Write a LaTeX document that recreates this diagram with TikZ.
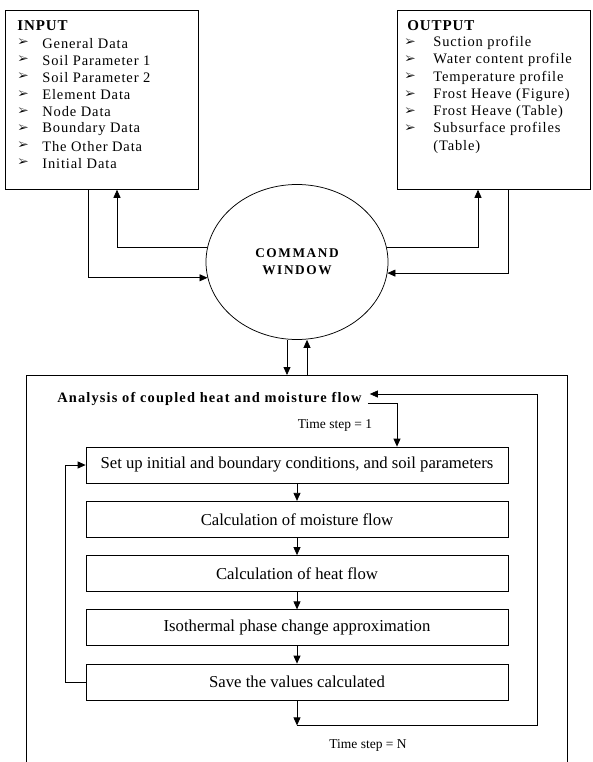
\documentclass[tikz,border=0pt]{standalone}
\usepackage{fontspec}
\setmainfont{Liberation Serif}
\usepackage{pifont}
\usetikzlibrary{positioning,shapes.geometric,arrows.meta}

\begin{document}
\begin{tikzpicture}[x=1pt,y=-1pt,line width=0.75pt,>={Triangle[length=8pt,width=7pt]}]
            \tikzstyle{listbox}=[draw,anchor=north west,minimum width=193pt,minimum height=179pt,inner sep=0pt]
            \tikzstyle{stepbox}=[draw,minimum width=422pt,minimum height=36pt,inner sep=0pt,font=\fontsize{16.7}{18}\selectfont]
            \tikzstyle{item}=[anchor=west,inner sep=0pt,font=\fontsize{14.5}{16}\selectfont\addfontfeature{LetterSpace=6}]
            \tikzstyle{head}=[anchor=west,inner sep=0pt,font=\fontsize{15}{16}\selectfont\bfseries\addfontfeature{LetterSpace=6}]
            \tikzstyle{bullet}=[anchor=west,inner sep=0pt,font=\fontsize{11}{11}\selectfont]
            \tikzstyle{note}=[inner sep=0pt,font=\fontsize{13.5}{15}\selectfont]
            \useasboundingbox (0,0) rectangle (593,762);

                % input and output lists
                \node[listbox] (input) at (5,10) {};
                \node[listbox] (output) at (397,10) {};
                \node[head] (in-head) at (17,26) {INPUT};
                \node[head] (out-head) at (407,26) {OUTPUT};

                \foreach \i/\txt in {1/General Data, 2/Soil Parameter 1, 3/Soil Parameter 2, 4/Element Data, 5/Node Data, 6/Boundary Data, 7/The Other Data, 8/Initial Data}
                    {
                    \node[bullet] (in-b-\i) at (18,25+17.2*\i) {\ding{226}};
                    \node[item] (in-\i) at (42,26+17.2*\i) {\txt};
                    }
                \foreach \i/\txt in {1/Suction profile, 2/Water content profile, 3/Temperature profile, 4/Frost Heave (Figure), 5/Frost Heave (Table), 6/Subsurface profiles}
                    {
                    \node[bullet] (out-b-\i) at (405,25+17.2*\i) {\ding{226}};
                    \node[item] (out-\i) at (433,26+17.2*\i) {\txt};
                    }
                \node[item] (out-7) at (433,147) {(Table)};

                % command window
                \node[ellipse,draw,minimum width=182pt,minimum height=155pt,inner sep=0pt,align=center,
                      font=\fontsize{13.3}{17}\selectfont\bfseries\addfontfeature{LetterSpace=12}] (cmd) at (297,262) {COMMAND\\WINDOW};

                \draw[->] ([xshift=83pt]input.south west) |- (cmd.190);
                \draw[->] (cmd.171) -| ([xshift=112pt]input.south west);
                \draw[->] (cmd.9) -| ([xshift=81pt]output.south west);
                \draw[->] ([xshift=111pt]output.south west) |- (cmd.353);

                % analysis frame
                \node[minimum width=541pt,minimum height=387pt,inner sep=0pt,anchor=north west] (frame) at (26,375) {};
                \draw (frame.south west) -- (frame.north west) -- (frame.north east) -- (frame.south east);
                \draw[->] ([xshift=-10pt]cmd.south) -- ([xshift=-10pt]cmd.south |- frame.north);
                \draw[->] ([xshift=10pt]cmd.south |- frame.north) -- ([xshift=10pt]cmd.south);

                \node[anchor=west,inner sep=0pt,font=\fontsize{14.4}{16}\selectfont\bfseries\addfontfeature{LetterSpace=8}] (analysis) at (57,399) {Analysis of coupled heat and moisture flow};

                \node[stepbox] (setup) at (297,465) {Set up initial and boundary conditions, and soil parameters};
                \node[stepbox,below=17.5pt of setup] (moist) {Calculation of moisture flow};
                \node[stepbox,below=17.5pt of moist] (heat) {Calculation of heat flow};
                \node[stepbox,below=17.5pt of heat] (phase) {Isothermal phase change approximation};
                \node[stepbox,below=17.5pt of phase] (save) {Save the values calculated};

                \foreach \from/\to in {setup/moist, moist/heat, heat/phase, phase/save}
                    \draw[->] (\from) -- (\to);

                \draw[->] ([yshift=-4pt,xshift=6pt]analysis.east) -| ([xshift=100pt]setup.north);
                \node[note] (ts-first) at (335,425) {Time step = 1};

                % time loop
                \draw[->] (save.west) -- ++(-20,0) |- (setup.west);
                \coordinate[below=25pt of save.south] (loopend);
                \draw[->] (loopend) -- ++(240,0) |- ([yshift=5pt,xshift=8pt]analysis.east);
                \draw[->] (save.south) -- (loopend);
                \node[note] (ts-last) at (368,745) {Time step = N};
        \end{tikzpicture}
\end{document}
